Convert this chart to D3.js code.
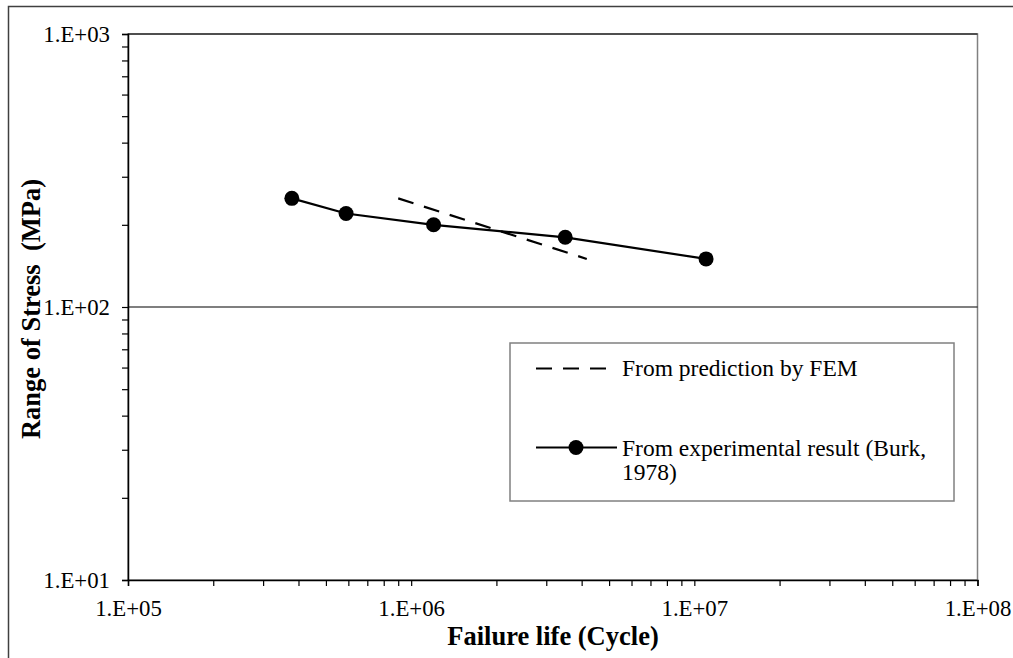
<!DOCTYPE html>
<html>
<head>
<meta charset="utf-8">
<script src="https://cdn.jsdelivr.net/npm/d3@7"></script>
<style>
  html, body { margin: 0; padding: 0; background: #fff; }
  svg { display: block; }
  svg text { font-family: "Liberation Serif", "Times New Roman", serif; }
</style>
</head>
<body>
<svg id="chart" width="1013" height="658"></svg>
<script>
// Fatigue test results (Burk, 1978): failure life vs. stress range
const expLife   = [3.79e5, 5.89e5, 1.2e6, 3.5e6, 1.1e7];
const expStress = [250, 220, 200, 180, 150];

// FEM prediction line (S-N slope m = 3)
const femLife   = [9.0e5, 4.17e6];
const femStress = [250, 150];

const xDomain = [1e5, 1e8];
const yDomain = [1e1, 1e3];
const yMajor = [1e1, 1e2, 1e3];

const legendLabels = ["From prediction by FEM", "From experimental result (Burk,", "1978)"];
const xTitle = "Failure life (Cycle)";
const yTitle = "Range of Stress  (MPa)";

const SERIF = "'Liberation Serif', 'Times New Roman', serif";
const svg = d3.select("#chart");
const W = 1013, H = 658;
const plot = { left: 128, right: 977.5, top: 34, bottom: 580 };

const x = d3.scaleLog().domain(xDomain).range([plot.left, plot.right]);
const y = d3.scaleLog().domain(yDomain).range([plot.bottom, plot.top]);

const fmt = d => "1.E+" + String(Math.round(Math.log10(d))).padStart(2, "0");
const allTicks = dom => {
  const out = [];
  for (let p = Math.log10(dom[0]); p < Math.log10(dom[1]); p++)
    for (let m = 1; m < 10; m++) out.push(m * Math.pow(10, p));
  out.push(dom[1]);
  return out;
};
const isMajor = d => Math.abs(Math.log10(d) - Math.round(Math.log10(d))) < 1e-9;

// outer chart frame
svg.append("rect")
  .attr("x", 8.5).attr("y", 6.5).attr("width", W + 20).attr("height", H + 20)
  .attr("fill", "#fff").attr("stroke", "#404040").attr("stroke-width", 1.5);

// plot area border
svg.append("rect")
  .attr("x", plot.left).attr("y", plot.top)
  .attr("width", plot.right - plot.left).attr("height", plot.bottom - plot.top)
  .attr("fill", "#fff").attr("stroke", "#808080").attr("stroke-width", 1.5);

// major horizontal gridlines
svg.append("g").selectAll("line").data(yMajor.filter(d => d > yDomain[0]))
  .join("line")
  .attr("x1", plot.left).attr("x2", plot.right)
  .attr("y1", d => y(d)).attr("y2", d => y(d))
  .attr("stroke", "#000").attr("stroke-width", 1.2);

// x axis
const xAxis = d3.axisBottom(x).tickValues(allTicks(xDomain))
  .tickFormat(d => isMajor(d) ? fmt(d) : "").tickSize(6).tickPadding(14);
const gx = svg.append("g").attr("transform", `translate(0,${plot.bottom})`).call(xAxis)
  .attr("font-family", SERIF);
gx.select(".domain").attr("stroke", "#000").attr("stroke-width", 1.5);
gx.selectAll(".tick line").attr("stroke", "#000").attr("stroke-width", 1.2);
gx.selectAll(".tick text").attr("font-size", 22.8).attr("fill", "#000")
  .attr("font-family", SERIF);

// y axis
const yAxis = d3.axisLeft(y).tickValues(allTicks(yDomain))
  .tickFormat(d => isMajor(d) ? fmt(d) : "").tickSize(6).tickPadding(12);
const gy = svg.append("g").attr("transform", `translate(${plot.left},0)`).call(yAxis)
  .attr("font-family", SERIF);
gy.select(".domain").attr("stroke", "#000").attr("stroke-width", 1.5);
gy.selectAll(".tick line").attr("stroke", "#000").attr("stroke-width", 1.2);
gy.selectAll(".tick text").attr("font-size", 22.8).attr("fill", "#000")
  .attr("font-family", SERIF);

// axis titles
svg.append("text")
  .attr("x", 553).attr("y", 645)
  .attr("font-family", SERIF)
  .attr("text-anchor", "middle").attr("font-weight", "bold").attr("font-size", 26.5)
  .text(xTitle);
svg.append("text")
  .attr("transform", "translate(40,309) rotate(-90)")
  .attr("font-family", SERIF)
  .attr("text-anchor", "middle").attr("font-weight", "bold").attr("font-size", 26.5)
  .style("white-space", "pre")
  .text(yTitle);

// series
const line = d3.line().x(d => x(d[0])).y(d => y(d[1]));
const femPts = femLife.map((v, i) => [v, femStress[i]]);
const expPts = expLife.map((v, i) => [v, expStress[i]]);

svg.append("path").datum(femPts).attr("d", line)
  .attr("fill", "none").attr("stroke", "#000").attr("stroke-width", 2.2)
  .attr("stroke-dasharray", "16,11");

svg.append("path").datum(expPts).attr("d", line)
  .attr("fill", "none").attr("stroke", "#000").attr("stroke-width", 2.2);

svg.append("g").selectAll("circle").data(expPts).join("circle")
  .attr("cx", d => x(d[0])).attr("cy", d => y(d[1])).attr("r", 7.5)
  .attr("fill", "#000");

// legend
const lg = svg.append("g");
lg.append("rect").attr("x", 510).attr("y", 343).attr("width", 444).attr("height", 158)
  .attr("fill", "#fff").attr("stroke", "#808080").attr("stroke-width", 1.5);
lg.append("line").attr("x1", 536).attr("x2", 617).attr("y1", 368.5).attr("y2", 368.5)
  .attr("stroke", "#000").attr("stroke-width", 2.2).attr("stroke-dasharray", "16,11");
lg.append("line").attr("x1", 536).attr("x2", 617).attr("y1", 447.5).attr("y2", 447.5)
  .attr("stroke", "#000").attr("stroke-width", 2.2);
lg.append("circle").attr("cx", 576).attr("cy", 447.5).attr("r", 7.5).attr("fill", "#000");
const legendY = [376, 456, 480];
lg.selectAll("text.lbl").data(legendLabels).join("text")
  .attr("class", "lbl")
  .attr("x", 622).attr("y", (d, i) => legendY[i])
  .attr("font-family", SERIF)
  .attr("font-size", 23.5).attr("fill", "#000")
  .text(d => d);
</script>
</body>
</html>
